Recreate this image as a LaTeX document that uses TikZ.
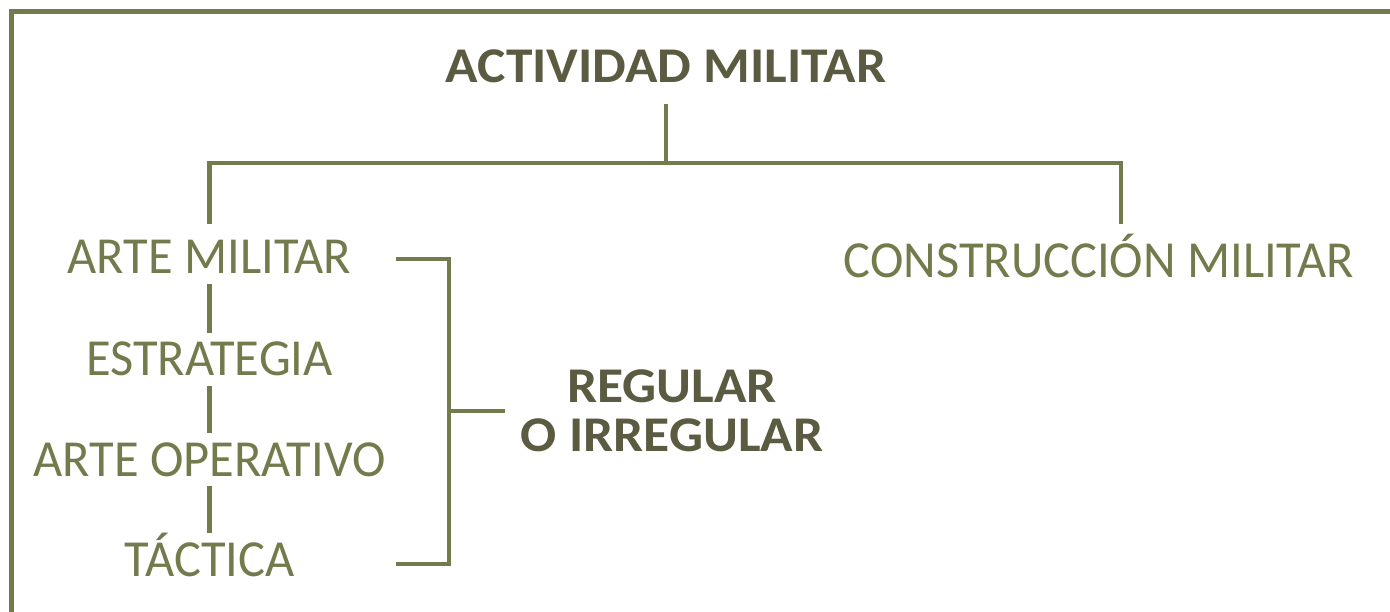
\documentclass[tikz,border=0pt]{standalone}
\usepackage{fontspec}
\setmainfont{Carlito}[FakeStretch=0.97, BoldFeatures={FakeStretch=1.07}]
\usetikzlibrary{positioning}
\definecolor{verde}{HTML}{737B4C}
\definecolor{verdeosc}{HTML}{5B5B41}
\tikzset{
	link/.style={draw=verde, line width=4.5pt},
	rama/.style={text=verde, font=\fontsize{52}{52}\selectfont, anchor=base, inner xsep=0pt, inner ysep=10pt, text height=33pt, text depth=0pt},
	jefe/.style={text=verdeosc, font=\bfseries\fontsize{50}{50}\selectfont, anchor=base, inner sep=0pt}
}

\begin{document}
\begin{tikzpicture}[x=1pt, y=-1pt]
			\useasboundingbox (0,0) rectangle (1390,612);
			\draw[draw=verde, line width=5pt] (11.5,612) -- (11.5,11.5) -- (1390,11.5);
			\node[jefe, inner ysep=20pt] (act) at (666,83) {ACTIVIDAD MILITAR};
			\node[rama] (arte) at (209.5,274) {ARTE MILITAR};
			\node[rama] (estr) at (209.5,376) {ESTRATEGIA};
			\node[rama] (oper) at (209.5,476) {ARTE OPERATIVO};
			\node[rama] (tact) at (209.5,576) {TÁCTICA};
			\node[rama] (cons) at (1099,278) {CONSTRUCCIÓN MILITAR};
			\node[jefe, anchor=center, align=center, font=\bfseries\fontsize{50}{49}\selectfont] (regla) at (672,410.5) {REGULAR\\O IRREGULAR};
			\coordinate (barL) at (209.5,163);
			\coordinate (barR) at (1121,163);
			\coordinate (dropR) at (1121,224);
			\coordinate (brT) at (396,259);
			\coordinate (brB) at (396,564);
			\coordinate (brM) at (449,411);
			\draw[link] (act.south) -- (act.south |- barL);
			\draw[link] ([yshift=7pt]arte.north) -- (barL) -- (barR) -- (dropR);
			\path[link]
			(arte) edge (estr)
			(estr) edge (oper)
			(oper) edge (tact);
			\draw[link] (brT) -| (brM) |- (brB);
			\draw[link] (brM) -- (505,411);
		\end{tikzpicture}
\end{document}
